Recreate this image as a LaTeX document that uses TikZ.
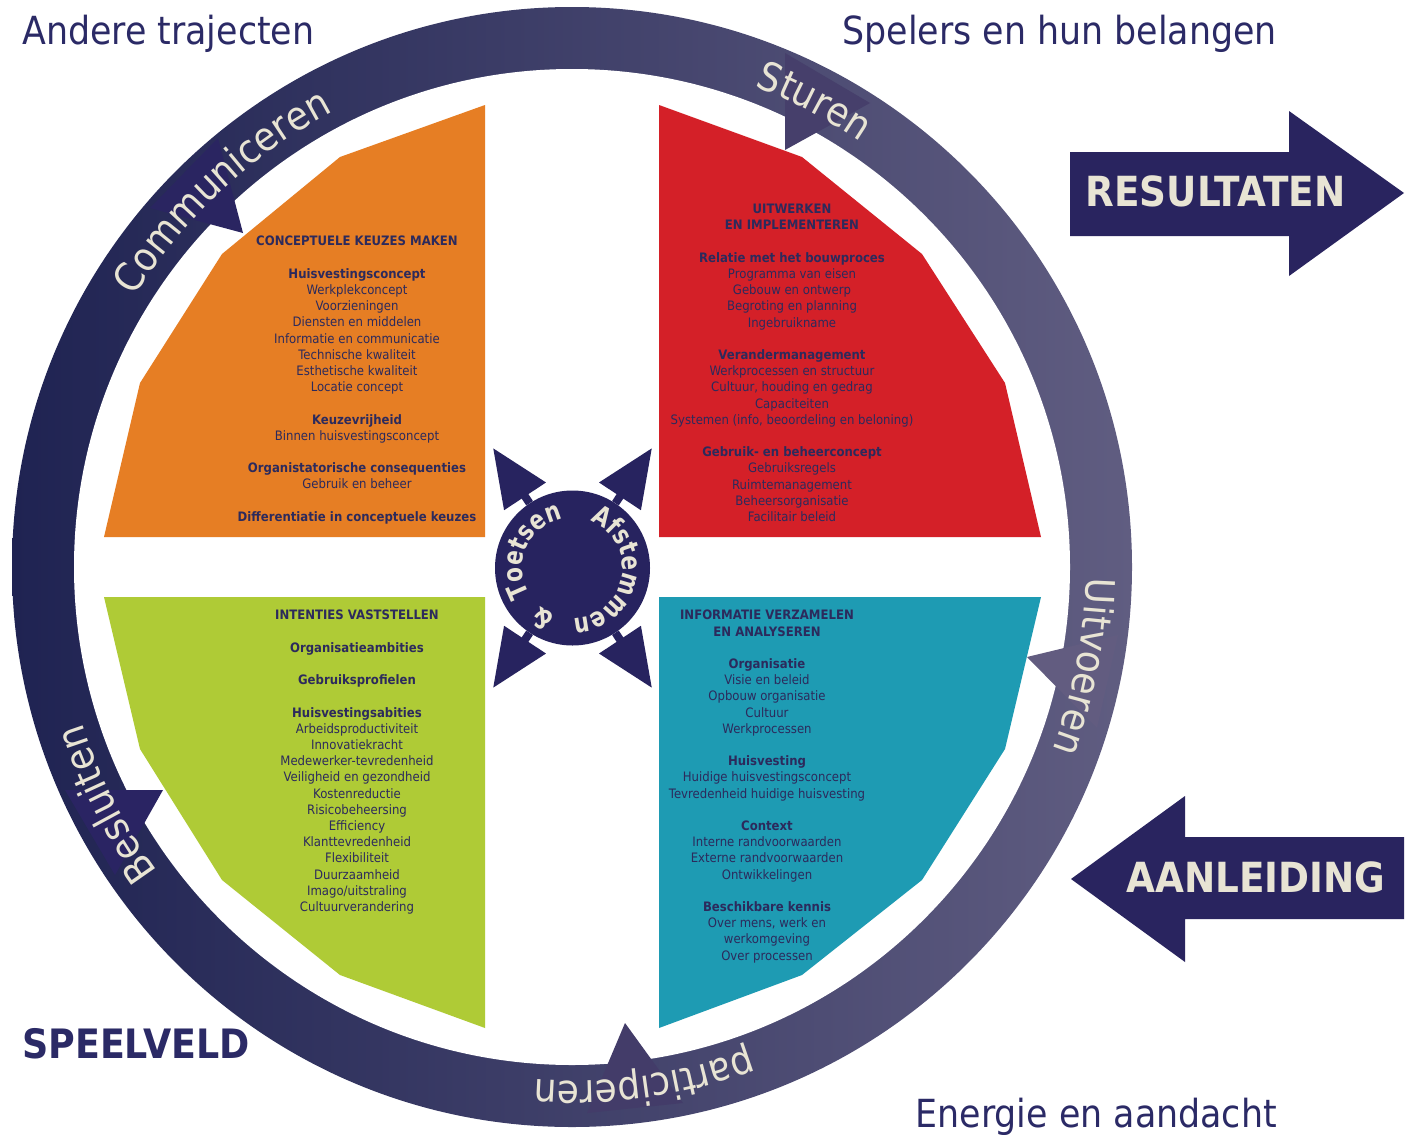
\documentclass[tikz,border=0pt]{standalone}
\usepackage{fontspec}
\newfontfamily\tah{DejaVu Sans}[FakeStretch=0.9]
\newfontfamily\hubf{DejaVu Sans}[FakeStretch=0.8]
\usetikzlibrary{arrows.meta,decorations.text}
\definecolor{navy}{HTML}{2B2A66}
\definecolor{qtext}{HTML}{2C2A5C}
\definecolor{cream}{HTML}{E8E4D4}
\definecolor{ringL}{HTML}{1F2352}
\definecolor{ringR}{HTML}{605D81}
\definecolor{hubc}{HTML}{27235F}
\definecolor{bigarr}{HTML}{29245F}
\definecolor{qorange}{HTML}{E67E24}
\definecolor{qred}{HTML}{D42028}
\definecolor{qgreen}{HTML}{AFCB36}
\definecolor{qteal}{HTML}{1E9BB3}
\definecolor{triA}{HTML}{2A2561}
\definecolor{triB}{HTML}{463F6B}
\definecolor{triC}{HTML}{625C80}
\definecolor{triD}{HTML}{433C69}
\definecolor{triE}{HTML}{2A2463}
\newcommand\ringfnt{\tah\fontsize{40}{40}\selectfont}
\newcommand\hubfnt{\hubf\bfseries\fontsize{27}{27}\selectfont}
\tikzset{
  quadtext/.style={anchor=north, align=center, inner sep=0pt, text=qtext,
    font=\tah\fontsize{13}{16.2}\selectfont},
  corner/.style={inner sep=0pt, text=navy, font=\tah\fontsize{38.7}{40}\selectfont},
  bigtext/.style={inner sep=0pt, text=cream, font=\tah\bfseries\fontsize{41.5}{42}\selectfont},
  hubarr/.style={draw=hubc, line width=8pt, -{Triangle[length=58pt,width=48pt]}},
  ringlabel/.style={decorate, decoration={text along path, text align=center,
    text color=cream, text={|\ringfnt|#1}}},
  hublabel/.style={decorate, decoration={text along path, text align=center,
    text color=cream, text={|\hubfnt|#1}}},
}
\begin{document}
\begin{tikzpicture}[x=1pt,y=1pt]
\useasboundingbox (0,0) rectangle (1411,-1135);
\fill[white] (0,0) rectangle (1411,-1135);
\coordinate (C) at (572,-567);
% ring
\shade[left color=ringL, right color=ringR] (C) circle[radius=560];
\fill[white] (C) circle[radius=498];
% ring arrow triangles
\fill[triA] (150,-208) -- (218,-138) -- (243,-233) -- cycle;
\fill[triB] (785,-53) -- (870,-103) -- (785,-150) -- cycle;
\fill[triC] (1118,-635) -- (1027,-657) -- (1097,-728) -- cycle;
\fill[triD] (625,-1023) -- (587,-1113) -- (683,-1103) -- cycle;
\fill[triE] (65,-790) -- (163,-790) -- (115,-875) -- cycle;
% ring texts
\path[shift={(572,-567)}, ringlabel=Communiceren]
  (165:514) arc[start angle=165, end angle=101, radius=514];
\path[shift={(572,-567)}, ringlabel=Sturen]
  (82:514) arc[start angle=82, end angle=43, radius=514];
\path[shift={(572,-567)}, ringlabel=Uitvoeren]
  (14:514) arc[start angle=14, end angle=-36, radius=514];
\path[shift={(572,-567)}, ringlabel=participeren]
  (-52:514) arc[start angle=-52, end angle=-112, radius=514];
\path[shift={(572,-567)}, ringlabel=Besluiten]
  (235:514) arc[start angle=235, end angle=179, radius=514];
% quadrants
\fill[qorange] (485,-105) -- (340,-157) -- (222,-254) -- (140,-383) -- (104,-537) -- (485,-537) -- cycle;
\fill[qred] (659,-105) -- (802,-157) -- (922,-254) -- (1005,-383) -- (1041,-537) -- (659,-537) -- cycle;
\fill[qgreen] (104,-597) -- (485,-597) -- (485,-1028) -- (340,-975) -- (222,-880) -- (140,-749) -- cycle;
\fill[qteal] (659,-597) -- (1041,-597) -- (1005,-749) -- (922,-880) -- (802,-975) -- (659,-1028) -- cycle;
% quadrant texts
\node[quadtext] (torange) at (357,-236) {{\bfseries CONCEPTUELE KEUZES MAKEN}\\[16.2pt]
{\bfseries Huisvestingsconcept}\\
Werkplekconcept\\
Voorzieningen\\
Diensten en middelen\\
Informatie en communicatie\\
Technische kwaliteit\\
Esthetische kwaliteit\\
Locatie concept\\[16.2pt]
{\bfseries Keuzevrijheid}\\
Binnen huisvestingsconcept\\[16.2pt]
{\bfseries Organistatorische consequenties}\\
Gebruik en beheer\\[16.2pt]
{\bfseries Differentiatie in conceptuele keuzes}};
\node[quadtext] (tred) at (792,-204) {{\bfseries UITWERKEN}\\
{\bfseries EN IMPLEMENTEREN}\\[16.2pt]
{\bfseries Relatie met het bouwproces}\\
Programma van eisen\\
Gebouw en ontwerp\\
Begroting en planning\\
Ingebruikname\\[16.2pt]
{\bfseries Verandermanagement}\\
Werkprocessen en structuur\\
Cultuur, houding en gedrag\\
Capaciteiten\\
Systemen (info, beoordeling en beloning)\\[16.2pt]
{\bfseries Gebruik- en beheerconcept}\\
Gebruiksregels\\
Ruimtemanagement\\
Beheersorganisatie\\
Facilitair beleid};
\node[quadtext] (tgreen) at (357,-610) {{\bfseries INTENTIES VASTSTELLEN}\\[16.2pt]
{\bfseries Organisatieambities}\\[16.2pt]
{\bfseries Gebruiksprofielen}\\[16.2pt]
{\bfseries Huisvestingsabities}\\
Arbeidsproductiviteit\\
Innovatiekracht\\
Medewerker-tevredenheid\\
Veiligheid en gezondheid\\
Kostenreductie\\
Risicobeheersing\\
Efficiency\\
Klanttevredenheid\\
Flexibiliteit\\
Duurzaamheid\\
Imago/uitstraling\\
Cultuurverandering};
\node[quadtext] (tteal) at (767,-610) {{\bfseries INFORMATIE VERZAMELEN}\\
{\bfseries EN ANALYSEREN}\\[16.2pt]
{\bfseries Organisatie}\\
Visie en beleid\\
Opbouw organisatie\\
Cultuur\\
Werkprocessen\\[16.2pt]
{\bfseries Huisvesting}\\
Huidige huisvestingsconcept\\
Tevredenheid huidige huisvesting\\[16.2pt]
{\bfseries Context}\\
Interne randvoorwaarden\\
Externe randvoorwaarden\\
Ontwikkelingen\\[16.2pt]
{\bfseries Beschikbare kennis}\\
Over mens, werk en\\
werkomgeving\\
Over processen};
% hub
\node[circle, fill=hubc, minimum size=155pt, inner sep=0pt] (hub) at (572.5,-568) {};
\coordinate (tNW) at (493,-448);
\coordinate (tNE) at (652,-448);
\coordinate (tSW) at (493,-688);
\coordinate (tSE) at (652,-688);
\draw[hubarr] (hub) -- (tNW);
\draw[hubarr] (hub) -- (tNE);
\draw[hubarr] (hub) -- (tSW);
\draw[hubarr] (hub) -- (tSE);
\path[shift={(572.5,-568)}, hublabel=Afstemmen]
  (85:50) arc[start angle=85, end angle=-105, radius=50];
\path[shift={(572.5,-568)}, hublabel=Toetsen]
  (222:50) arc[start angle=222, end angle=91, radius=50];
\node[inner sep=0pt, anchor=base, rotate=-210.6, text=cream, font=\hubfnt] (amp)
  at ([shift={(572.5,-568)}]-120.6:50) {\&};
% big arrows
\fill[bigarr] (1070,-152) -- (1289,-152) -- (1289,-111) -- (1404,-193) -- (1289,-276) -- (1289,-236) -- (1070,-236) -- cycle;
\node[bigtext, anchor=base] (res) at (1215.5,-206) {RESULTATEN};
\fill[bigarr] (1404,-837) -- (1185,-837) -- (1185,-796) -- (1071,-879) -- (1185,-962) -- (1185,-919) -- (1404,-919) -- cycle;
\node[bigtext, anchor=base] (aan) at (1256,-892) {AANLEIDING};
% corner labels
\node[corner, anchor=base west] (andere) at (22,-44) {Andere trajecten};
\node[corner, anchor=base east] (spelers) at (1277,-44) {Spelers en hun belangen};
\node[corner, anchor=base east] (energie) at (1277,-1127) {Energie en aandacht};
\node[corner, anchor=base west, font=\tah\bfseries\fontsize{40.5}{41}\selectfont] (speelveld) at (22,-1058) {SPEELVELD};
\end{tikzpicture}
\end{document}
